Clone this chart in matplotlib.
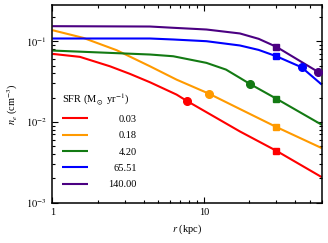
import matplotlib
matplotlib.use("Agg")
import matplotlib.pyplot as plt
from matplotlib.ticker import LogLocator, NullFormatter, FixedLocator, FixedFormatter

plt.rcParams['font.family'] = ['Liberation Serif', 'DejaVu Serif']
plt.rcParams['mathtext.fontset'] = 'stix'

# SFR labels and colours
sfr_labels = ["0.03", "0.18", "4.20", "65.51", "140.00"]
colors = ["#ff0000", "#ff9a00", "#137a13", "#0000ff", "#4b0082"]

# curve samples (r in kpc, n_e in cm^-3)
r_red = [1.0, 1.52, 2.40, 3.25, 4.41, 6.61, 7.69, 17.3, 30.1, 60.0]
n_red = [0.0697, 0.0640, 0.0489, 0.0394, 0.0310, 0.0218, 0.0183, 0.00762, 0.00439, 0.00207]

r_orange = [1.0, 1.60, 2.66, 4.41, 6.61, 10.8, 17.3, 30.1, 60.0]
n_orange = [0.137, 0.110, 0.0773, 0.0489, 0.0334, 0.0224, 0.01445, 0.00865, 0.00474]

r_green = [1.0, 4.41, 6.28, 10.4, 14.0, 17.3, 20.1, 30.1, 60.0]
n_green = [0.0766, 0.0684, 0.0651, 0.0539, 0.0445, 0.0351, 0.0296, 0.0194, 0.00922]

r_blue = [1.0, 4.41, 6.28, 10.4, 17.3, 23.0, 30.1, 44.1, 60.0]
n_blue = [0.108, 0.108, 0.105, 0.100, 0.0885, 0.078, 0.0651, 0.0476, 0.0290]

r_purple = [1.0, 4.41, 6.28, 10.4, 17.3, 23.0, 30.1, 56.7, 60.0]
n_purple = [0.1535, 0.152, 0.1466, 0.1396, 0.1247, 0.107, 0.0852, 0.0417, 0.0385]

# marker points
circle_r = [7.69, 10.8, 20.1, 44.1, 56.7]
circle_n = [0.0183, 0.0224, 0.0296, 0.0476, 0.0417]
square_r = [30.1, 30.1, 30.1, 30.1, 30.1]
square_n = [0.00439, 0.00865, 0.0194, 0.0651, 0.0852]

curves = [(r_red, n_red), (r_orange, n_orange), (r_green, n_green),
          (r_blue, n_blue), (r_purple, n_purple)]

fig = plt.figure(figsize=(3.28, 2.43), dpi=100)
ax = fig.add_axes([0.1595, 0.166, 0.8215, 0.813])

handles = []
for (rr, nn), c, lab in zip(curves, colors, sfr_labels):
    h, = ax.plot(rr, nn, color=c, lw=1.5, label=lab, solid_capstyle='butt')
    handles.append(h)
for i, c in enumerate(colors):
    ax.plot(circle_r[i], circle_n[i], 'o', color=c, ms=5.5, zorder=5)
    ax.plot(square_r[i], square_n[i], 's', color=c, ms=4.3, zorder=5)

ax.set_xscale('log')
ax.set_yscale('log')
ax.set_xlim(1, 60)
ax.set_ylim(1e-3, 0.28)

ax.xaxis.set_major_locator(FixedLocator([1, 10]))
ax.xaxis.set_major_formatter(FixedFormatter(["1", "10"]))
ax.xaxis.set_minor_locator(LogLocator(base=10, subs=range(2, 10)))
ax.xaxis.set_minor_formatter(NullFormatter())
ax.yaxis.set_major_locator(FixedLocator([1e-3, 1e-2, 1e-1]))
ax.yaxis.set_major_formatter(FixedFormatter([r"$10^{-3}$", r"$10^{-2}$", r"$10^{-1}$"]))
ax.yaxis.set_minor_locator(LogLocator(base=10, subs=range(2, 10)))
ax.yaxis.set_minor_formatter(NullFormatter())

ax.tick_params(which='both', direction='in', top=True, right=True, labelsize=7.5, width=0.8)
ax.tick_params(which='major', length=4, pad=4)
ax.tick_params(which='minor', length=2)
for s in ax.spines.values():
    s.set_linewidth(1.1)

ax.set_xlabel(r"$r$ (kpc)", fontsize=7.5, labelpad=4)
ax.set_ylabel(r"$n_e$ (cm$^{-3}$)", fontsize=7.5, labelpad=4)

leg = ax.legend(handles=handles, labels=sfr_labels, title=r"SFR (M$_\odot$ yr$^{-1}$)",
                loc='lower left', bbox_to_anchor=(0.0, 0.02), frameon=False,
                fontsize=7.5, title_fontsize=7.5, handlelength=2.5,
                handletextpad=2.0, labelspacing=0.68, borderaxespad=0.5)
leg._legend_box.align = "left"
fig.canvas.draw()
renderer = fig.canvas.get_renderer()
widths = [t.get_window_extent(renderer).width for t in leg.get_texts()]
maxw = max(widths)
for t, w in zip(leg.get_texts(), widths):
    t.set_position((maxw - w, 0))

fig.savefig("out.png", dpi=100)
